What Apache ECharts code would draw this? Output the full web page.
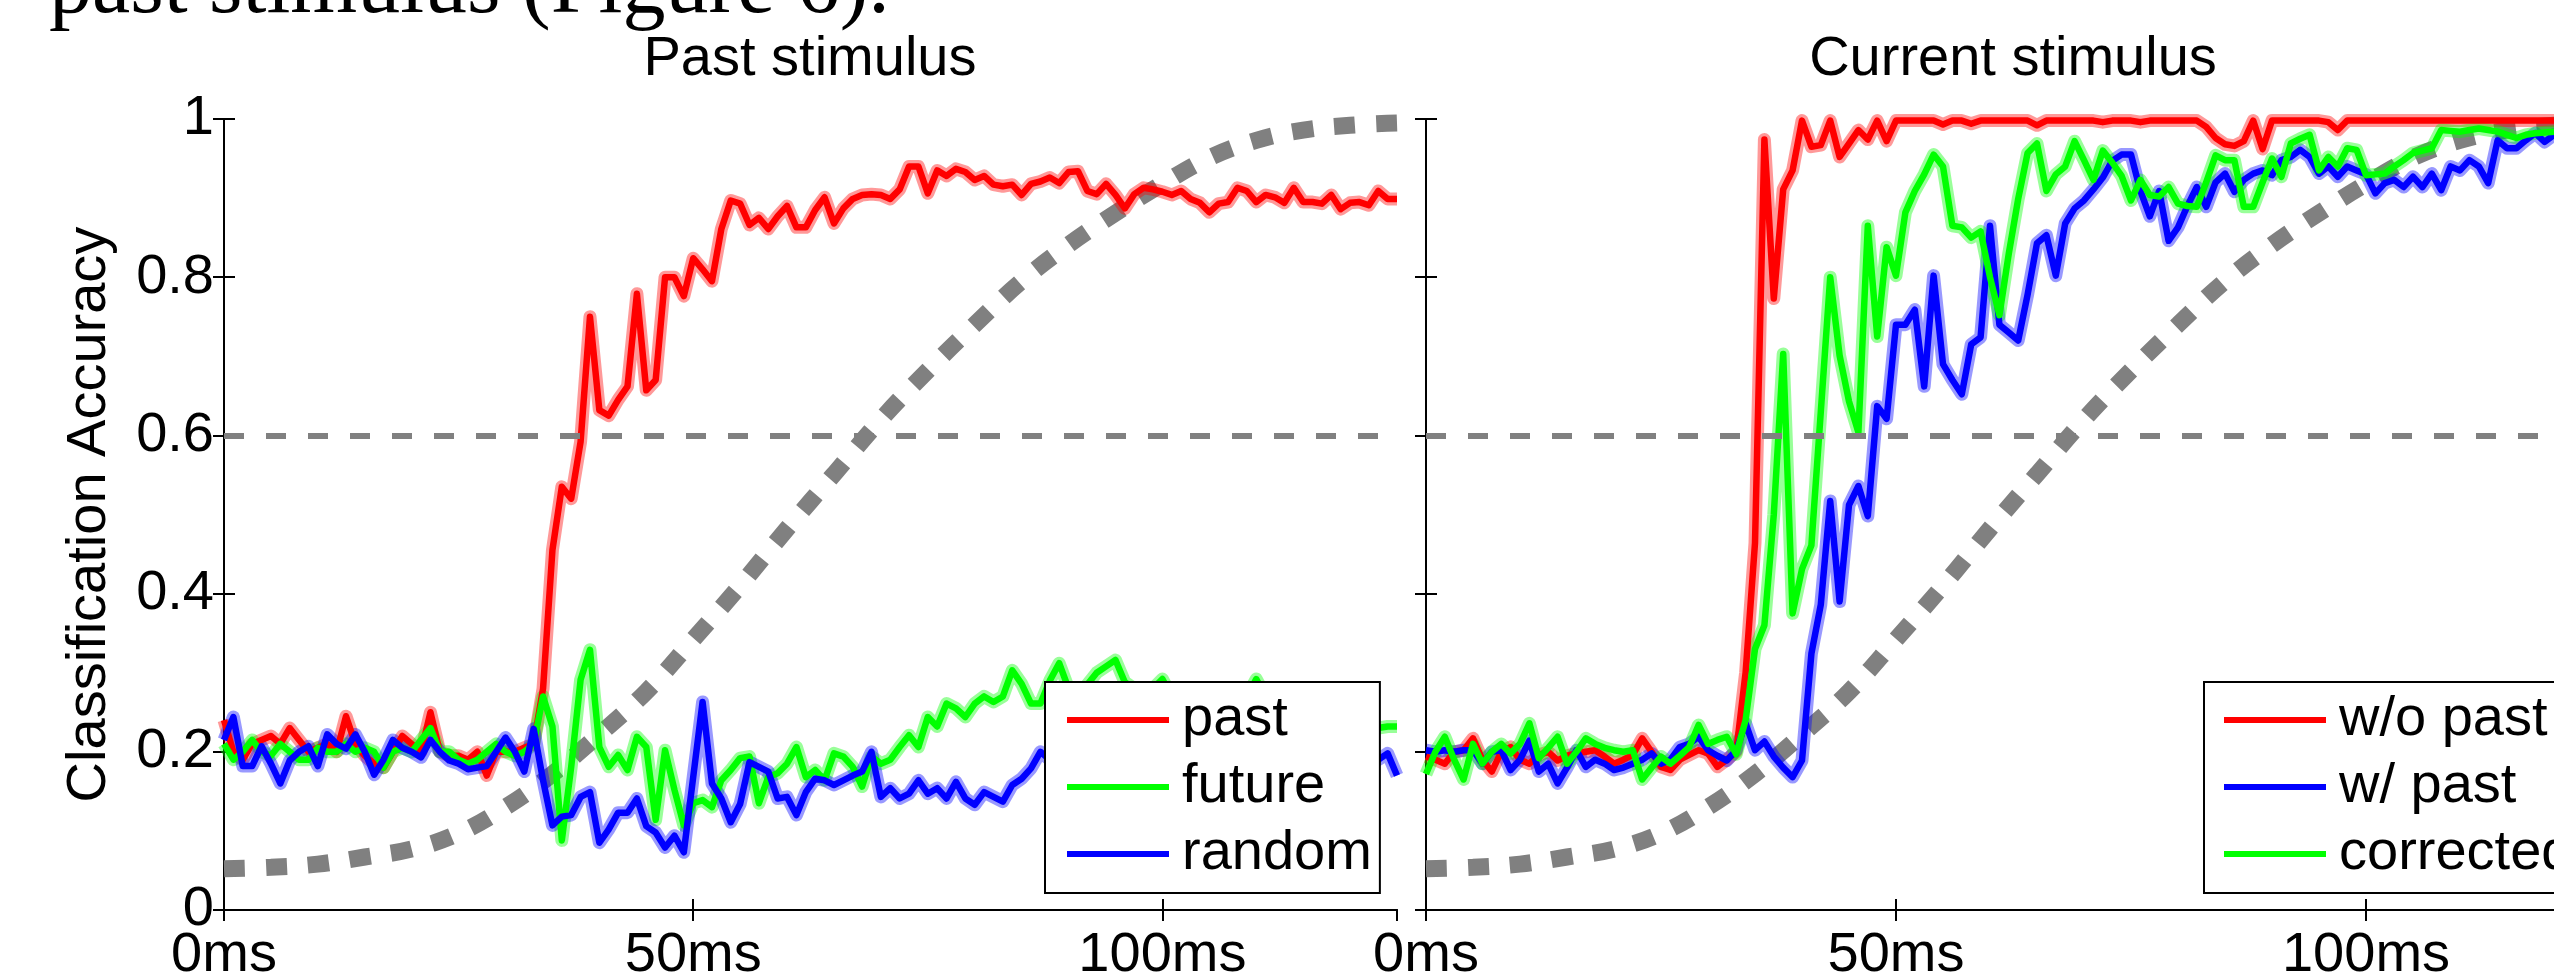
<!DOCTYPE html>
<html>
<head>
<meta charset="utf-8">
<title>Classification accuracy</title>
<script src="https://cdn.jsdelivr.net/npm/echarts@6/dist/echarts.min.js"></script>
<style>
html, body { margin: 0; padding: 0; background: #fff; overflow: hidden; }
#chart { width: 2610px; height: 979px; }
</style>
</head>
<body>
<div id="chart"></div>
<script>
// decoder sample times (ms)
const timeMs = [0,1,2,3,4,5,6,7,8,9,10,11,12,13,14,15,16,17,18,19,20,21,22,23,24,25,26,27,28,29,
  30,31,32,33,34,35,36,37,38,39,40,41,42,43,44,45,46,47,48,49,50,51,52,53,54,55,56,57,58,59,
  60,61,62,63,64,65,66,67,68,69,70,71,72,73,74,75,76,77,78,79,80,81,82,83,84,85,86,87,88,89,
  90,91,92,93,94,95,96,97,98,99,100,101,102,103,104,105,106,107,108,109,110,111,112,113,114,115,116,117,118,119,
  120,121,122,123,124,125];

// left panel: past stimulus
const pastAcc = [0.24,0.20,0.19,0.21,0.215,0.22,0.21,0.23,0.215,0.20,
  0.205,0.21,0.20,0.245,0.21,0.195,0.185,0.18,0.20,0.22,
  0.21,0.20,0.25,0.20,0.195,0.195,0.19,0.20,0.17,0.20,
  0.20,0.20,0.205,0.21,0.28,0.455,0.535,0.52,0.592,0.75,
  0.632,0.625,0.645,0.662,0.779,0.657,0.67,0.80,0.80,0.776,
  0.824,0.81,0.795,0.861,0.897,0.893,0.866,0.875,0.861,0.877,
  0.89,0.863,0.863,0.885,0.901,0.868,0.887,0.899,0.904,0.905,
  0.904,0.899,0.911,0.94,0.94,0.906,0.935,0.928,0.937,0.933,
  0.923,0.928,0.917,0.915,0.917,0.904,0.918,0.921,0.926,0.919,
  0.933,0.934,0.909,0.905,0.918,0.904,0.887,0.905,0.913,0.911,
  0.908,0.904,0.909,0.899,0.894,0.882,0.893,0.895,0.913,0.909,
  0.895,0.904,0.901,0.894,0.913,0.895,0.895,0.893,0.904,0.886,
  0.894,0.895,0.891,0.909,0.899,0.899];
const futureAcc = [0.21,0.19,0.2,0.215,0.2,0.195,0.21,0.2,0.19,0.19,
  0.205,0.2,0.2,0.21,0.2,0.205,0.2,0.18,0.2,0.205,
  0.2,0.215,0.23,0.2,0.2,0.19,0.185,0.19,0.2,0.21,
  0.2,0.195,0.2,0.21,
  0.27,0.232,0.088,0.181,0.291,0.329,0.206,0.181,0.196,0.177,
  0.219,0.206,0.114,0.202,0.152,0.107,0.135,0.139,0.13,0.164,
  0.177,0.192,0.194,0.135,0.168,0.173,0.185,0.206,0.168,0.177,
  0.164,0.198,0.194,0.181,0.156,0.194,0.185,0.19,0.206,0.221,
  0.206,0.244,0.232,0.261,0.255,0.244,0.261,0.27,0.263,0.27,
  0.303,0.286,0.261,0.261,
  0.29,0.312,0.28,0.27,0.285,0.3,0.308,0.316,0.288,0.28,
  0.27,0.28,0.292,0.27,0.26,0.27,0.26,0.255,0.26,0.25,
  0.26,0.27,0.292,0.27,0.26,0.25,0.25,0.24,0.25,0.24,
  0.25,0.24,0.235,0.24,0.235,0.23,0.232,0.232];
const randomAcc = [0.215,0.244,0.182,0.182,0.207,0.185,0.16,0.189,0.2,0.207,
  0.182,0.222,0.21,0.204,0.222,0.2,0.171,0.19,0.215,0.205,
  0.2,0.193,0.215,0.2,0.189,0.185,0.178,0.18,0.182,0.2,
  0.218,0.2,0.175,0.229,
  0.164,0.107,0.118,0.12,0.143,0.149,0.085,0.102,0.123,0.123,
  0.141,0.106,0.098,0.079,0.094,0.073,0.168,0.263,
  0.16,0.141,0.111,0.134,0.187,0.181,0.175,0.141,0.143,0.12,
  0.149,0.166,0.164,0.158,0.164,0.17,0.175,0.2,0.143,0.154,
  0.141,0.147,0.164,0.147,0.154,0.141,0.162,0.141,0.133,0.149,
  0.143,0.137,0.158,0.166,0.179,0.2,
  0.19,0.2,0.185,0.19,0.18,0.175,0.185,0.19,0.18,0.19,
  0.2,0.19,0.18,0.19,0.185,0.19,0.2,0.195,0.18,0.19,
  0.2,0.185,0.19,0.2,0.19,0.185,0.19,0.195,0.2,0.19,
  0.185,0.19,0.2,0.19,0.185,0.19,0.198,0.17];

// right panel: current stimulus
const woPastAcc = [0.194,0.19,0.185,0.2,0.202,0.217,0.19,0.175,0.2,0.206,
  0.19,0.185,0.196,0.2,0.189,0.195,0.198,0.2,0.202,0.194,
  0.185,0.19,0.196,0.217,0.2,0.181,0.177,0.19,0.196,0.202,
  0.198,0.181,0.19,0.2,
  0.3,0.464,0.974,0.773,0.911,0.935,0.998,0.965,0.967,0.998,
  0.952,0.969,0.986,0.974,0.998,0.972,0.998,
  0.998,0.998,0.998,0.998,0.993,0.998,0.998,0.994,0.998,0.998,
  0.998,0.998,0.998,0.998,0.992,0.998,0.998,0.998,0.998,0.998,
  0.998,0.996,0.998,0.998,0.998,0.996,0.998,0.998,0.998,0.998,
  0.998,0.998,0.99,0.976,0.968,0.966,0.972,0.998,0.962,0.998,
  0.998,0.998,0.998,0.998,0.998,0.996,0.986,0.998,0.998,0.998,
  0.998,0.998,0.998,0.998,0.998,0.998,0.998,0.998,0.998,0.998,
  0.998,0.998,0.998,0.998,0.998,0.998,0.998,0.998,0.998,0.998,
  0.998,0.998,0.998,0.998,0.998];
const wPastAcc = [0.202,0.2,0.202,0.2,0.202,0.202,0.185,0.2,0.202,0.177,
  0.19,0.214,0.175,0.185,0.16,0.18,0.202,0.181,0.19,0.185,
  0.177,0.18,0.185,0.19,0.198,0.185,0.19,0.206,0.21,0.219,
  0.202,0.195,0.189,0.202,0.236,0.202,0.213,0.194,0.18,0.168,
  0.189,
  0.324,0.386,0.517,0.39,0.512,0.536,0.498,0.637,0.621,0.74,
  0.74,0.759,0.662,0.802,0.69,0.67,0.652,0.715,0.724,0.865,
  0.74,0.73,0.72,0.778,0.843,0.853,0.802,0.868,0.887,0.897,
  0.911,0.926,0.947,0.955,
  0.955,0.909,0.877,0.909,0.846,0.863,0.89,0.914,0.889,0.92,
  0.931,0.908,0.923,0.931,0.935,0.929,0.948,0.952,0.961,0.952,
  0.931,0.94,0.927,0.94,0.935,0.93,0.906,0.919,0.923,0.914,
  0.927,0.914,0.931,0.91,0.94,0.935,0.948,0.94,0.919,0.973,
  0.963,0.963,0.973,0.982,0.971,0.98,0.985,0.98,0.985,0.983,
  0.985];
const correctedAcc = [0.172,0.2,0.219,0.19,0.165,0.21,0.185,0.2,0.21,0.198,
  0.21,0.236,0.192,0.205,0.219,0.185,0.2,0.217,0.21,0.205,
  0.202,0.2,0.202,0.165,0.18,0.194,0.185,0.195,0.206,0.234,
  0.21,0.215,0.219,0.197,
  0.24,0.33,0.36,0.5,0.703,0.375,0.431,0.461,0.63,0.8,
  0.701,0.643,0.604,0.865,0.725,0.838,0.802,0.882,0.909,0.93,
  0.955,0.94,0.865,0.863,0.85,0.858,0.8,0.752,0.83,0.899,
  0.957,0.969,0.909,0.93,0.94,0.972,0.948,0.923,0.96,0.945,
  0.928,0.897,0.923,0.904,0.902,0.914,0.893,0.89,0.889,0.92,
  0.954,0.948,0.948,0.889,0.889,0.92,0.95,0.927,0.969,0.975,
  0.98,0.935,0.952,0.94,0.963,0.961,0.929,0.93,0.931,0.94,
  0.948,0.957,0.96,0.963,0.986,0.985,0.984,0.986,0.988,0.986,
  0.984,0.98,0.976,0.98,0.982,0.983,0.984,0.985,0.986,0.985,
  0.986,0.987];

// grey reference curve, same in both panels
const curveMs = [0,5,10,15,20,25,30,35,40,45,50,55,60,65,70,75,80,85,90,95,100,105,110,115,120,125];
const curveAcc = [0.052,0.054,0.058,0.067,0.077,0.097,0.13,0.172,0.222,0.276,0.342,0.41,0.482,
  0.551,0.62,0.682,0.74,0.795,0.841,0.881,0.918,0.951,0.973,0.986,0.992,0.995];
const thresholdAcc = 0.6;

const leftNames = ['past', 'future', 'random'];
const rightNames = ['w/o past', 'w/ past', 'corrected'];
// clipped line of body text above the figure
const pageLine = 'past stimulus (Figure 6).';

const FONT = 'Liberation Sans';
const SERIF = 'Liberation Serif';
const FS = 56;
const RED = '#ff0000', GREEN = '#00ff00', BLUE = '#0000ff', GREY = '#808080';

function pairs(xs, ys) {
  return xs.map(function (x, i) { return [x, ys[i]]; });
}

function xAxes(grid) {
  const base = {
    gridIndex: grid, type: 'value', min: 0, max: 125, interval: 50,
    axisLine: {lineStyle: {color: '#000', width: 2}},
    axisTick: {inside: true, length: 11, lineStyle: {color: '#000', width: 2}},
    splitLine: {show: false}
  };
  return [
    Object.assign({}, base, {position: 'bottom',
      axisLabel: {formatter: '{value}ms', fontSize: FS, fontFamily: FONT, color: '#000',
        margin: 18, lineHeight: FS, showMaxLabel: false}}),
    Object.assign({}, base, {position: 'top', axisLabel: {show: false}})
  ];
}

function yAxes(grid, withLabels) {
  const base = {
    gridIndex: grid, type: 'value', min: 0, max: 1, interval: 0.2,
    axisLine: {lineStyle: {color: '#000', width: 2}},
    axisTick: {inside: true, length: 11, lineStyle: {color: '#000', width: 2}},
    splitLine: {show: false}
  };
  const left = Object.assign({}, base, {position: 'left',
    axisLabel: withLabels ? {fontSize: FS, fontFamily: FONT, color: '#000', margin: 10,
      padding: [5, 0, 0, 0]} : {show: false}});
  if (withLabels) {
    left.name = 'Classification Accuracy';
    left.nameLocation = 'middle';
    left.nameGap = 106;
    left.nameMoveOverlap = false;
    left.nameTextStyle = {fontSize: FS, fontFamily: FONT, color: '#000', lineHeight: FS};
  }
  return [left, Object.assign({}, base, {position: 'right', axisLabel: {show: false}})];
}

function curveSeries(grid) {
  return {
    type: 'line', name: 'reference ' + grid, xAxisIndex: grid * 2, yAxisIndex: grid * 2,
    data: pairs(curveMs, curveAcc), symbol: 'none', smooth: 0.4, silent: true, clip: false,
    lineStyle: {color: GREY, width: 17, type: [21, 21], cap: 'butt'},
    markLine: {
      silent: true, symbol: 'none', label: {show: false},
      lineStyle: {color: GREY, width: 6, type: [20, 22]},
      data: [{yAxis: thresholdAcc}]
    }
  };
}

function bandSeries(name, ys, color, grid) {
  return {
    type: 'line', name: name + ' band', xAxisIndex: grid * 2, yAxisIndex: grid * 2,
    data: pairs(timeMs, ys), symbol: 'none', silent: true, clip: false,
    lineStyle: {color: color, width: 13, join: 'round'}
  };
}

function meanSeries(name, ys, color, grid) {
  return {
    type: 'line', name: name, xAxisIndex: grid * 2, yAxisIndex: grid * 2,
    data: pairs(timeMs, ys), symbol: 'none', clip: false,
    itemStyle: {color: color},
    lineStyle: {color: color, width: 6.5, join: 'round'}
  };
}

function legendFor(names, left, padLeft) {
  return {
    data: names, orient: 'vertical', left: left, top: 682,
    padding: [10, 8, 11, padLeft], itemGap: 11,
    itemWidth: 102, itemHeight: 6, icon: 'rect',
    backgroundColor: '#fff', borderColor: '#000', borderWidth: 2, borderRadius: 0,
    selectedMode: false,
    textStyle: {fontSize: FS, fontFamily: FONT, color: '#000', lineHeight: FS, padding: [0, 0, 0, 8]}
  };
}

function label(text, x, y, size, family, align) {
  return {
    type: 'text', x: x, y: y, silent: true,
    style: {text: text, fontSize: size, fontFamily: family, fill: '#000',
      align: align, verticalAlign: 'middle'}
  };
}

const chart = echarts.init(document.getElementById('chart'));

chart.setOption({
  animation: false,
  backgroundColor: '#fff',
  grid: [
    {left: 224, top: 119, width: 1173, height: 791, outerBoundsMode: 'none'},
    {left: 1426, top: 119, width: 1175, height: 791, outerBoundsMode: 'none'}
  ],
  xAxis: xAxes(0).concat(xAxes(1)),
  yAxis: yAxes(0, true).concat(yAxes(1, false)),
  legend: [legendFor(leftNames, 1045, 22), legendFor(rightNames, 2204, 20)],
  graphic: [
    label(pageLine, 49, -11, 86, SERIF, 'left'),
    label('Past stimulus', 810, 60, FS, FONT, 'center'),
    label('Current stimulus', 2013, 60, FS, FONT, 'center')
  ],
  series: [
    curveSeries(0),
    bandSeries('past', pastAcc, 'rgba(255,0,0,0.4)', 0),
    bandSeries('future', futureAcc, 'rgba(0,255,0,0.4)', 0),
    bandSeries('random', randomAcc, 'rgba(0,0,255,0.4)', 0),
    meanSeries('past', pastAcc, RED, 0),
    meanSeries('future', futureAcc, GREEN, 0),
    meanSeries('random', randomAcc, BLUE, 0),

    curveSeries(1),
    bandSeries('w/o past', woPastAcc, 'rgba(255,0,0,0.4)', 1),
    bandSeries('w/ past', wPastAcc, 'rgba(0,0,255,0.4)', 1),
    bandSeries('corrected', correctedAcc, 'rgba(0,255,0,0.4)', 1),
    meanSeries('w/o past', woPastAcc, RED, 1),
    meanSeries('w/ past', wPastAcc, BLUE, 1),
    meanSeries('corrected', correctedAcc, GREEN, 1)
  ]
});
</script>
</body>
</html>
